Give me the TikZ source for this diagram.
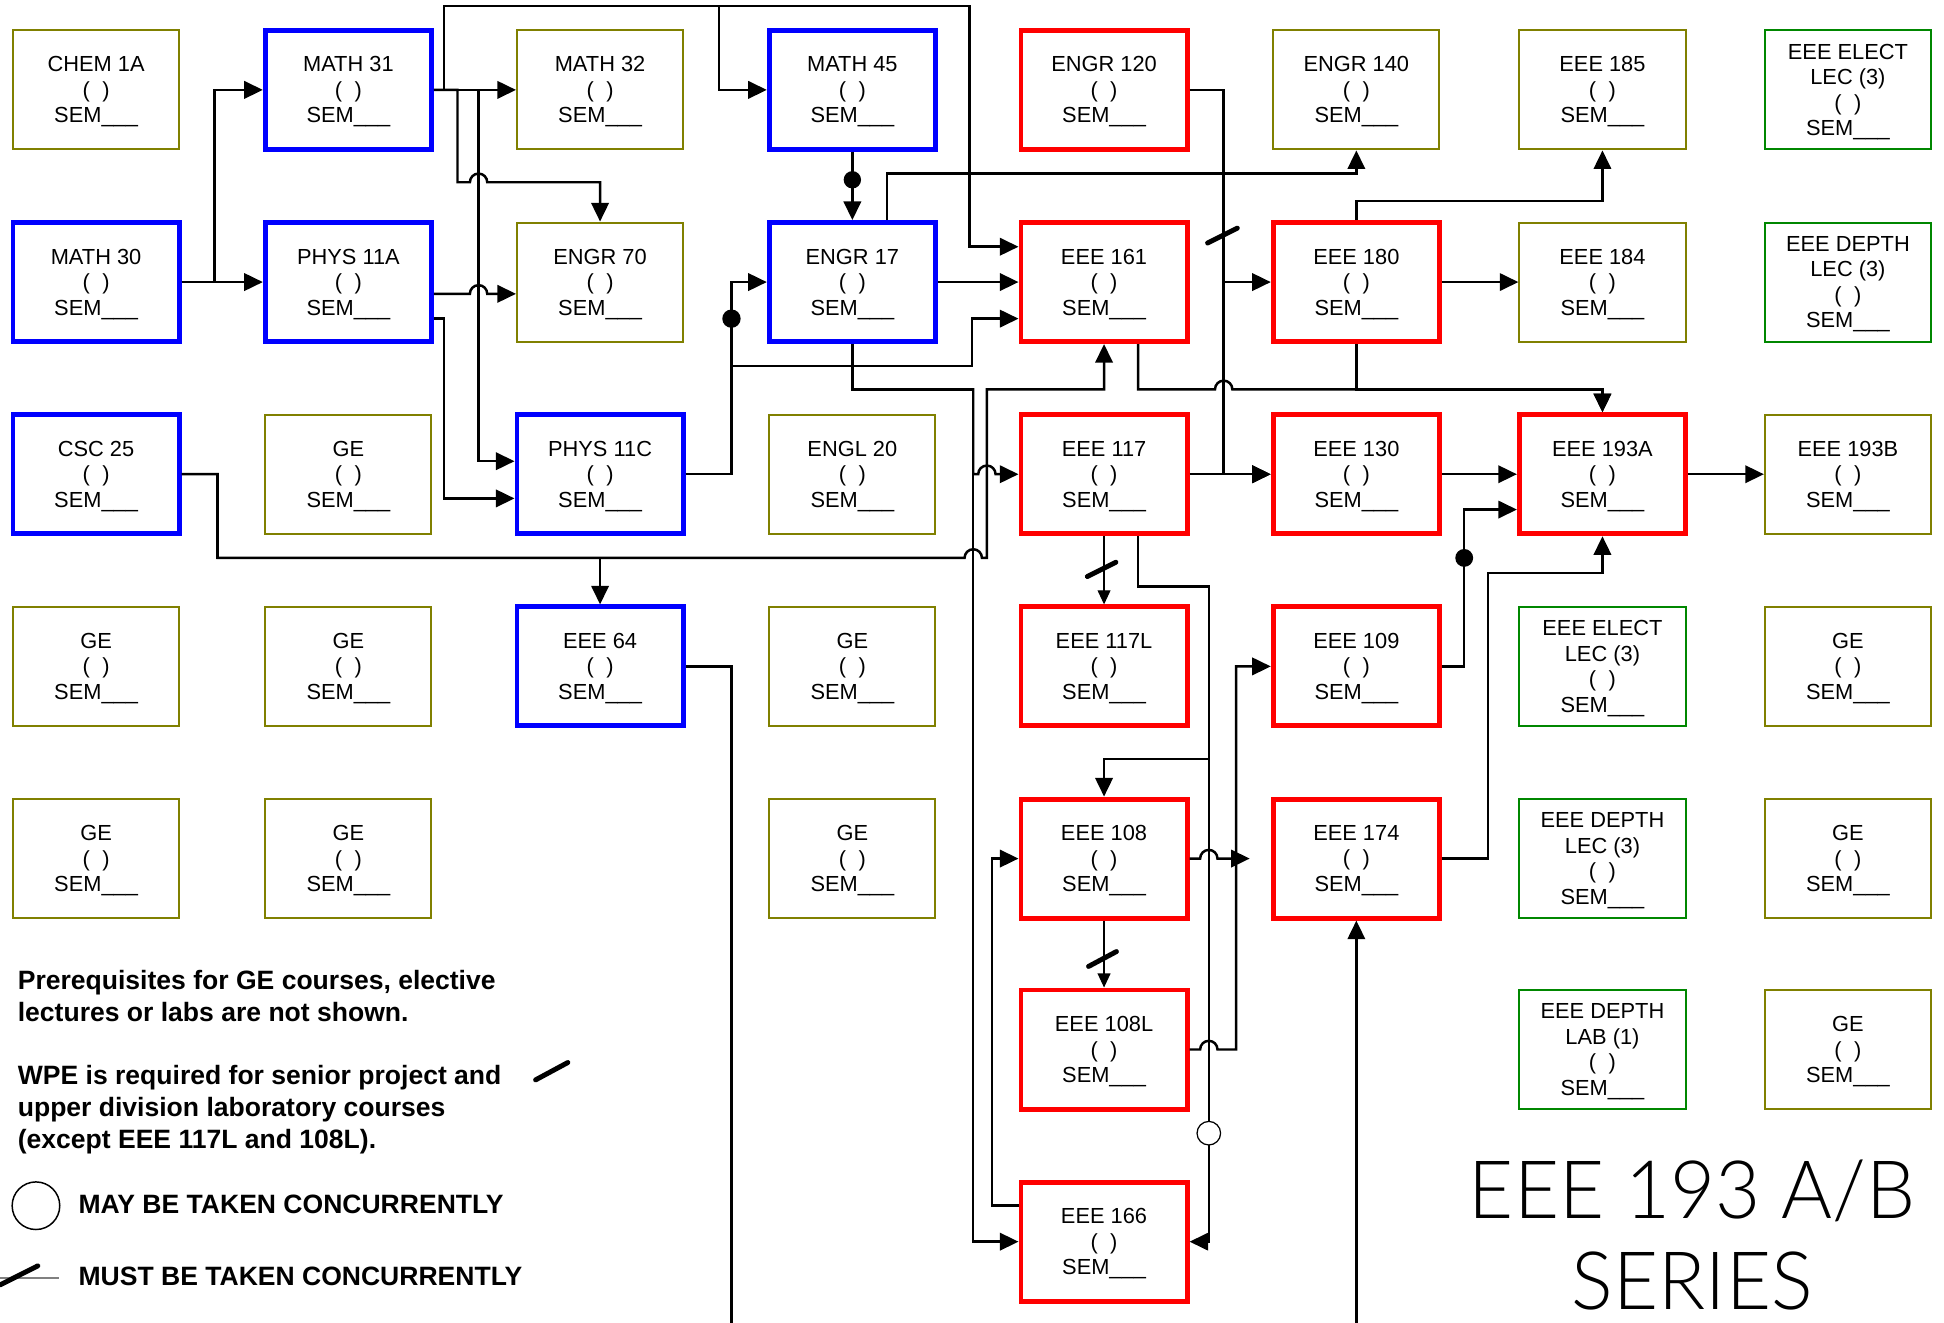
\documentclass[tikz,border=0pt]{standalone}
\usepackage{fontspec}
\setmainfont{Liberation Sans}
\newfontfamily\titlefont{Lato Light}[FakeStretch=0.965]
\usepackage{tikz}
\usetikzlibrary{arrows.meta}
\usetikzlibrary{calc}
\definecolor{bluebox}{RGB}{0,0,255}
\definecolor{redbox}{RGB}{255,0,0}
\definecolor{olivebox}{RGB}{128,128,0}
\definecolor{greenbox}{RGB}{0,135,0}
\newcommand{\sem}{(\hspace{5pt})\\SEM\smash{\_\_\_}}

\begin{document}
\begin{tikzpicture}[x=0.5pt,y=-0.5pt]
		  \tikzset{
			course/.style={minimum width=67pt,minimum height=48pt,inner sep=0pt,align=center,
			  font=\fontsize{8.8}{10.3}\selectfont},
			lowerdiv/.style={course,draw=bluebox,line width=2pt},
			upperdiv/.style={course,draw=redbox,line width=2pt},
			gebox/.style={course,draw=olivebox,line width=0.8pt},
			elect/.style={course,draw=greenbox,line width=0.8pt},
			pre/.style={line width=1pt,-{Triangle[length=7.5pt,width=7pt]}},
			coreq/.style={line width=0.5pt,-{Triangle[length=5.7pt,width=5.2pt]}},
			wpe/.style={line width=2pt,line cap=round},
			note/.style={anchor=base west,inner sep=0pt,font=\fontsize{10.7}{12.9}\selectfont\bfseries},
			title/.style={anchor=base,inner sep=0pt,font=\titlefont\fontsize{32.5}{38.4}\selectfont},
		  }
		  \useasboundingbox (0,0) rectangle (1568,1067);
		  \clip (0,0) rectangle (1568,1067);
		  %ROW 1
		  \node[gebox] (chem) at (77.5,72.5) {CHEM 1A\\\sem};
		  \node[lowerdiv] (m31) at (281,72.5) {MATH 31\\\sem};
		  \node[gebox] (m32) at (484,72.5) {MATH 32\\\sem};
		  \node[lowerdiv] (m45) at (687.5,72.5) {MATH 45\\\sem};
		  \node[upperdiv] (e120) at (890.5,72.5) {ENGR 120\\\sem};
		  \node[gebox] (e140) at (1094,72.5) {ENGR 140\\\sem};
		  \node[gebox] (e185) at (1292.5,72.5) {EEE 185\\\sem};
		  \node[elect] (elect1) at (1490.5,72.5) {EEE ELECT\\LEC (3)\\\sem};
		  %ROW 2
		  \node[lowerdiv] (m30) at (77.5,227.5) {MATH 30\\\sem};
		  \node[lowerdiv] (p11a) at (281,227.5) {PHYS 11A\\\sem};
		  \node[gebox] (e70) at (484,227.5) {ENGR 70\\\sem};
		  \node[lowerdiv] (e17) at (687.5,227.5) {ENGR 17\\\sem};
		  \node[upperdiv] (e161) at (890.5,227.5) {EEE 161\\\sem};
		  \node[upperdiv] (e180) at (1094,227.5) {EEE 180\\\sem};
		  \node[gebox] (e184) at (1292.5,227.5) {EEE 184\\\sem};
		  \node[elect] (depth1) at (1490.5,227.5) {EEE DEPTH\\LEC (3)\\\sem};
		  %ROW 3
		  \node[lowerdiv] (csc) at (77.5,382.5) {CSC 25\\\sem};
		  \node[gebox] (ge1) at (281,382.5) {GE\\\sem};
		  \node[lowerdiv] (p11c) at (484,382.5) {PHYS 11C\\\sem};
		  \node[gebox] (engl) at (687.5,382.5) {ENGL 20\\\sem};
		  \node[upperdiv] (e117) at (890.5,382.5) {EEE 117\\\sem};
		  \node[upperdiv] (e130) at (1094,382.5) {EEE 130\\\sem};
		  \node[upperdiv] (e193a) at (1292.5,382.5) {EEE 193A\\\sem};
		  \node[gebox] (e193b) at (1490.5,382.5) {EEE 193B\\\sem};
		  %ROW 4
		  \node[gebox] (ge2) at (77.5,537.5) {GE\\\sem};
		  \node[gebox] (ge3) at (281,537.5) {GE\\\sem};
		  \node[lowerdiv] (e64) at (484,537.5) {EEE 64\\\sem};
		  \node[gebox] (ge4) at (687.5,537.5) {GE\\\sem};
		  \node[upperdiv] (e117l) at (890.5,537.5) {EEE 117L\\\sem};
		  \node[upperdiv] (e109) at (1094,537.5) {EEE 109\\\sem};
		  \node[elect] (elect2) at (1292.5,537.5) {EEE ELECT\\LEC (3)\\\sem};
		  \node[gebox] (ge5) at (1490.5,537.5) {GE\\\sem};
		  %ROW 5
		  \node[gebox] (ge6) at (77.5,692.5) {GE\\\sem};
		  \node[gebox] (ge7) at (281,692.5) {GE\\\sem};
		  \node[gebox] (ge8) at (687.5,692.5) {GE\\\sem};
		  \node[upperdiv] (e108) at (890.5,692.5) {EEE 108\\\sem};
		  \node[upperdiv] (e174) at (1094,692.5) {EEE 174\\\sem};
		  \node[elect] (depth2) at (1292.5,692.5) {EEE DEPTH\\LEC (3)\\\sem};
		  \node[gebox] (ge9) at (1490.5,692.5) {GE\\\sem};
		  %ROW 6
		  \node[upperdiv] (e108l) at (890.5,846.5) {EEE 108L\\\sem};
		  \node[elect] (depthlab) at (1292.5,846.5) {EEE DEPTH\\LAB (1)\\\sem};
		  \node[gebox] (ge10) at (1490.5,846.5) {GE\\\sem};
		  %ROW 7
		  \node[upperdiv] (e166) at (890.5,1001.5) {EEE 166\\\sem};
		  %MATH 30
		  \draw[pre] (m30.east) -- (p11a.west);
		  \draw[pre] (m30.east) -- (173,227.5) |- (m31.west);
		  %MATH 31
		  \draw[pre] (m31.east) -- (m32.west);
		  \draw[pre] (m31.east) -- (358,72.5) |- (580,5) |- (m45.west);
		  \draw[pre] (m31.east) -- (358,72.5) |- (782,5) |- ($(e161.west)+(0,-28.5)$);
		  \draw[pre] (m31.east) -- (369,72.5) |- (379,147) arc[start angle=180,end angle=0,radius=3.5pt] -| (e70.north);
		  \draw[pre] (m31.east) -- (386,72.5) |- ($(p11c.west)+(0,-10.5)$);
		  %PHYS 11A
		  \draw[pre] ($(p11a.east)+(0,9.5)$) -- (379,237) arc[start angle=180,end angle=0,radius=3.5pt] -- ($(e70.west)+(0,9.5)$);
		  \draw[pre] ($(p11a.east)+(0,29.5)$) -- (358,257) |- ($(p11c.west)+(0,19.5)$);
		  %CSC 25
		  \draw[pre] (csc.east) -- (175.5,382.5) |- (484,450) -- (e64.north);
		  \draw[pre] (csc.east) -- (175.5,382.5) |- (778,450) arc[start angle=180,end angle=0,radius=3.5pt] -| (796,314) -| (e161.south);
		  %PHYS 11C
		  \draw[pre] (p11c.east) -- (590,382.5) |- (e17.west);
		  \draw[pre] (p11c.east) -- (590,382.5) |- (784,295) |- ($(e161.west)+(0,29.5)$);
		  \fill (590,257) circle[radius=3.7pt];
		  %MATH 45
		  \draw[pre] (m45.south) -- (e17.north);
		  \fill (687.5,145) circle[radius=3.5pt];
		  %ENGR 17
		  \draw[pre] ($(e17.north)+(28,0)$) |- (1094,140) -- (e140.south);
		  \draw[pre] (e17.east) -- (e161.west);
		  \draw[pre] (e17.south) |- (785,314) |- (789,382.5) arc[start angle=180,end angle=0,radius=3.5pt] -- (e117.west);
		  \draw[pre] (e17.south) |- (785,314) |- (e166.west);
		  %ENGR 120
		  \draw[pre] (e120.east) -- (987,72.5) |- (e180.west);
		  \draw[pre] (e120.east) -- (987,72.5) |- (e130.west);
		  \draw[wpe] (974,196) -- (998,184);
		  %EEE 117
		  \draw[pre] (e117.east) -- (e130.west);
		  \draw[coreq] (e117.south) -- (e117l.north);
		  \draw[wpe] (877,465) -- (900,453.5);
		  \draw[pre] ($(e117.south)+(27.5,0)$) |- (975,473) |- (890.5,612) -- (e108.north);
		  \draw[pre] ($(e117.south)+(27.5,0)$) |- (975,473) |- (e166.east);
		  \draw[fill=white,line width=0.5pt] (975,914) circle[radius=4.75pt];
		  %EEE 161
		  \draw[pre] ($(e161.south)+(27.5,0)$) |- (980,314) arc[start angle=180,end angle=0,radius=3.5pt] -| (e193a.north);
		  %EEE 180
		  \draw[pre] (e180.south) |- (1292.5,314) -- (e193a.north);
		  \draw[pre] (e180.north) |- (1292.5,162) -- (e185.south);
		  \draw[pre] (e180.east) -- (e184.west);
		  %EEE 193A
		  \draw[pre] (e130.east) -- (e193a.west);
		  \draw[pre] (e193a.east) -- (e193b.west);
		  \draw[pre] (e109.east) -- (1181,537.5) |- ($(e193a.west)+(0,28.5)$);
		  \fill (1181,450) circle[radius=3.6pt];
		  \draw[pre] (e174.east) -- (1200,692.5) |- (1292.5,462) -- (e193a.south);
		  %EEE 108
		  \draw[coreq] (e108.south) -- (e108l.north);
		  \draw[wpe] (878,779.5) -- (900.5,767.5);
		  \coordinate (e108end) at (1008,692.5);
		  \draw[pre] (e108.east) -- (968,692.5) arc[start angle=180,end angle=0,radius=3.5pt] -- (e108end);
		  \draw[pre] (e108l.east) -- (968,846.5) arc[start angle=180,end angle=0,radius=3.5pt] -- (997,846.5) |- (e109.west);
		  \draw[pre] ($(e166.west)+(0,-29)$) -- (800,972.5) |- (e108.west);
		  %EEE 64
		  \draw[pre] (e64.east) -- (590,537.5) |- (1094,1100) -- (e174.south);
		  %NOTES
		  \node[note] (n1) at (14,798) {Prerequisites for GE courses, elective};
		  \node[note] (n2) at (14,824) {lectures or labs are not shown.};
		  \node[note] (n3) at (14,875) {WPE is required for senior project and};
		  \node[note] (n4) at (14,900.7) {upper division laboratory courses};
		  \node[note] (n5) at (14,926.5) {(except EEE 117L and 108L).};
		  \draw[wpe] (432,871) -- (458,857);
		  \node[note] (may) at (63,979) {MAY BE TAKEN CONCURRENTLY};
		  \draw[line width=0.6pt] (29,972.5) circle[radius=9.6pt];
		  \node[note] (must) at (63,1037) {MUST BE TAKEN CONCURRENTLY};
		  \draw[gray,line width=0.8pt] (0,1030.5) -- (47.7,1030.5);
		  \draw[wpe] (0,1036.4) -- (30.5,1021);
		  %TITLE
		  \node[title] (title1) at (1365,982.6) {EEE 193 A/B};
		  \node[title] (title2) at (1365,1056) {SERIES};
\end{tikzpicture}
\end{document}
